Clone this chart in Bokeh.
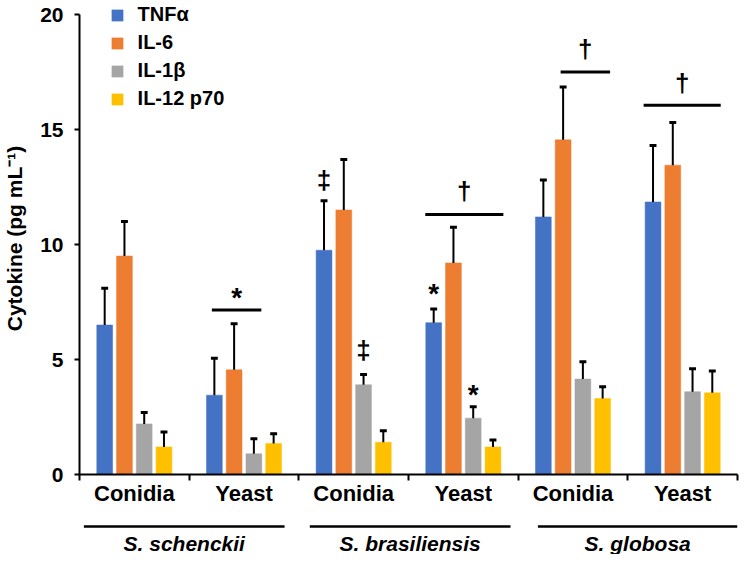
from bokeh.plotting import figure
from bokeh.layouts import column
from bokeh.models import Range1d, FixedTicker, Legend, LegendItem, ColumnDataSource
from bokeh.embed import file_html
from bokeh.resources import INLINE
from bokeh.core.properties import value

# ---------------- data ----------------
forms = ["Conidia", "Yeast", "Conidia", "Yeast", "Conidia", "Yeast"]
species = ["S. schenckii", "S. brasiliensis", "S. globosa"]
cytokines = ["TNFα", "IL-6", "IL-1β", "IL-12 p70"]
colors = ["#4472C4", "#ED7D31", "#A5A5A5", "#FFC000"]

tnf = [6.5, 3.45, 9.75, 6.6, 11.2, 11.85]
tnf_err = [1.6, 1.6, 2.15, 0.6, 1.6, 2.45]
il6 = [9.5, 4.55, 11.5, 9.2, 14.55, 13.45]
il6_err = [1.5, 2.0, 2.2, 1.55, 2.3, 1.85]
il1b = [2.2, 0.9, 3.9, 2.45, 4.15, 3.6]
il1b_err = [0.5, 0.65, 0.45, 0.5, 0.75, 1.0]
il12 = [1.2, 1.35, 1.4, 1.2, 3.3, 3.55]
il12_err = [0.65, 0.42, 0.5, 0.3, 0.52, 0.95]

y_ticks = [0, 5, 10, 15, 20]

# significance brackets: (group index, line y, symbol, symbol centre y, span start, span end within group)
brackets = [
    (1, 7.15, "*", 7.8, 0.207, 0.658),
    (3, 11.3, "†", 12.4, 0.153, 0.865),
    (4, 17.5, "†", 18.6, 0.387, 0.838),
    (5, 16.05, "†", 17.1, 0.144, 0.847),
]
# marks above single bars: (group index, series index, symbol, symbol centre y)
bar_marks = [
    (2, 0, "‡", 12.9),
    (2, 2, "‡", 5.5),
    (3, 0, "*", 8.0),
    (3, 2, "*", 3.6),
]

series = [(tnf, tnf_err), (il6, il6_err), (il1b, il1b_err), (il12, il12_err)]

# ---------------- layout constants ----------------
FONT = "Liberation Sans"
PX_PER_X = 111.0
PX_PER_Y = 23.0
pitch = 20.0 / PX_PER_X
bar_w = 16.0 / PX_PER_X
cap_w = 7.0 / PX_PER_X

p = figure(width=742, height=518, output_backend="svg", toolbar_location=None,
           x_range=Range1d(0, 6), y_range=Range1d(0, 20 + 12.0 / PX_PER_Y),
           min_border_left=71, min_border_right=5, min_border_top=2, min_border_bottom=44)
p.outline_line_color = None
p.xgrid.visible = False
p.ygrid.visible = False

renderers = []
for k, (vals, errs) in enumerate(series):
    xs = [g + 0.5 + (k - 1.5) * pitch for g in range(len(vals))]
    tops = [v + e for v, e in zip(vals, errs)]
    src = ColumnDataSource(dict(x=xs, top=vals, etop=tops,
                                cl=[x - cap_w / 2 for x in xs], cr=[x + cap_w / 2 for x in xs]))
    r = p.vbar(x="x", top="top", bottom=0, width=bar_w, source=src,
               fill_color=colors[k], line_color=colors[k], line_width=0.5)
    renderers.append(r)
    p.segment(x0="x", y0="top", x1="x", y1="etop", source=src, line_color="black", line_width=2)
    p.segment(x0="cl", y0="etop", x1="cr", y1="etop", source=src, line_color="black", line_width=3)

def sym_size(s):
    return "28px" if s == "*" else "26px"

def sym_base(s, yc):
    # convert symbol ink centre to text anchor
    off = 2.5 if s == "*" else 2.0
    return yc - off / PX_PER_Y

bx0, bx1, by = [], [], []
for g, ly, s, sy, a, b in brackets:
    bx0.append(g + a); bx1.append(g + b); by.append(ly)
    p.text(x=[g + (a + b) / 2], y=[sym_base(s, sy)], text=[s], text_align="center",
           text_baseline="alphabetic", text_font=value(FONT), text_font_style="bold",
           text_font_size=sym_size(s), text_color="black")
p.segment(x0=bx0, y0=by, x1=bx1, y1=by, line_color="black", line_width=3)

for g, k, s, sy in bar_marks:
    xc = g + 0.5 + (k - 1.5) * pitch
    p.text(x=[xc], y=[sym_base(s, sy)], text=[s], text_align="center",
           text_baseline="alphabetic", text_font=value(FONT), text_font_style="bold",
           text_font_size=sym_size(s), text_color="black")

# ---------------- axes ----------------
xa = p.xaxis[0]
xa.ticker = FixedTicker(ticks=[g + 0.5 for g in range(len(forms))], minor_ticks=list(range(len(forms) + 1)))
xa.major_label_overrides = {g + 0.5: f for g, f in enumerate(forms)}
xa.major_tick_out = 0
xa.major_tick_in = 0
xa.minor_tick_out = 6
xa.minor_tick_in = 0
xa.minor_tick_line_width = 2
xa.minor_tick_line_color = "black"
xa.axis_line_width = 2
xa.axis_line_color = "black"
xa.major_label_text_font = FONT
xa.major_label_text_font_style = "bold"
xa.major_label_text_font_size = "22px"
xa.major_label_text_color = "black"
xa.major_label_standoff = 0

ya = p.yaxis[0]
ya.ticker = FixedTicker(ticks=y_ticks, minor_ticks=[])
ya.bounds = (0, 20)
ya.major_tick_out = 5
ya.major_tick_in = 0
ya.major_tick_line_width = 2
ya.major_tick_line_color = "black"
ya.axis_line_width = 2
ya.axis_line_color = "black"
ya.major_label_text_font = FONT
ya.major_label_text_font_style = "bold"
ya.major_label_text_font_size = "21px"
ya.major_label_text_color = "black"
ya.major_label_standoff = 11
ya.axis_label = "Cytokine (pg mL⁻¹)"
ya.axis_label_text_font = FONT
ya.axis_label_text_font_style = "bold"
ya.axis_label_text_font_size = "21px"
ya.axis_label_text_color = "black"
ya.axis_label_standoff = 11

# legend
legend = Legend(items=[LegendItem(label=c, renderers=[r]) for c, r in zip(cytokines, renderers)],
                location=(30.6, 364), orientation="vertical",
                glyph_width=14, glyph_height=14, label_height=22, spacing=5,
                label_standoff=14, padding=0, margin=0,
                border_line_color=None, background_fill_alpha=0,
                label_text_font=FONT, label_text_font_style="bold",
                label_text_font_size="20px", label_text_color="black")
p.add_layout(legend)

# ---------------- species strip below the axis ----------------
p2 = figure(width=742, height=36, output_backend="svg", toolbar_location=None,
            x_range=p.x_range, y_range=Range1d(0, 36),
            min_border_left=71, min_border_right=5, min_border_top=0, min_border_bottom=0)
p2.axis.visible = False
p2.grid.visible = False
p2.outline_line_color = None

spans = [(0.04, 1.87), (2.1, 3.93), (4.18, 6.0)]
p2.segment(x0=[a for a, b in spans], y0=[28] * 3, x1=[b for a, b in spans], y1=[28] * 3,
           line_color="black", line_width=2.5)
p2.text(x=[(a + b) / 2 for a, b in spans], y=[11.5] * 3, text=species, text_align="center",
        text_baseline="middle", text_font=value(FONT), text_font_style="bold italic",
        text_font_size="21px", text_color="black")

open("out.html", "w").write(file_html(column(p, p2, spacing=0), INLINE))
